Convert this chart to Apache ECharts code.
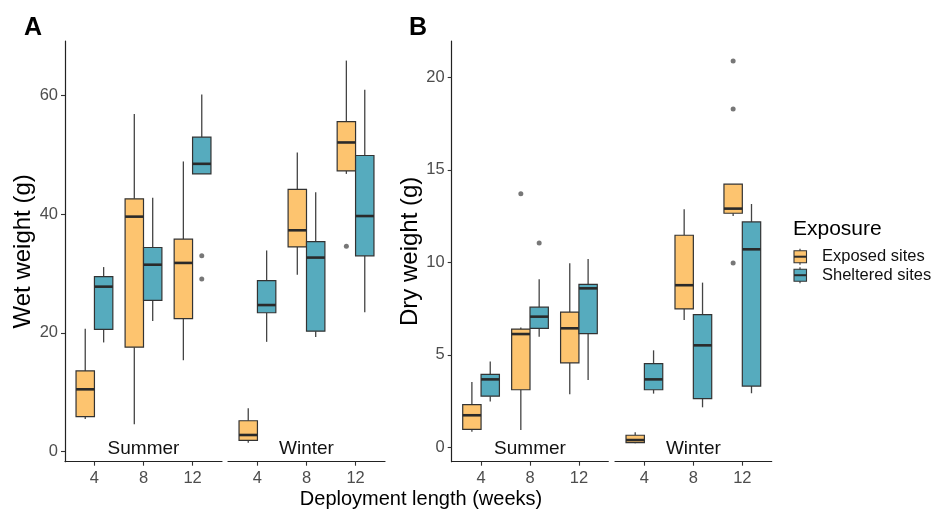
<!DOCTYPE html>
<html><head><meta charset="utf-8">
<script src="https://cdn.jsdelivr.net/npm/echarts@6/dist/echarts.min.js"></script>
<style>html,body{margin:0;padding:0;background:#fff}#c{width:937px;height:511px}</style>
</head><body><div id="c"></div>
<script>
const weeks = ['4', '8', '12'];
const seasons = ['Summer', 'Winter'];
const exposures = ['Exposed sites', 'Sheltered sites'];
const wetTicks = [0, 20, 40, 60];
const dryTicks = [0, 5, 10, 15, 20];

// [min, Q1, median, Q3, max] for weeks 4, 8, 12
const wetSummerExposed = [[5.5, 5.9, 10.5, 13.6, 20.7], [4.6, 17.6, 39.6, 42.6, 56.9], [15.4, 22.4, 31.8, 35.8, 48.9]];
const wetSummerSheltered = [[18.4, 20.6, 27.8, 29.5, 31.1], [22.0, 25.5, 31.5, 34.4, 42.8], [46.8, 46.8, 48.5, 53.0, 60.2]];
const wetWinterExposed = [[1.5, 1.9, 2.8, 5.2, 7.3], [29.8, 34.5, 37.3, 44.2, 50.4], [46.8, 47.3, 52.1, 55.6, 65.9]];
const wetWinterSheltered = [[18.5, 23.4, 24.7, 28.8, 33.9], [19.3, 20.3, 32.7, 35.4, 43.7], [23.5, 33.0, 39.7, 49.9, 61.0]];
// outliers: [week index, value]
const wetSummerExposedOut = [];
const wetSummerShelteredOut = [[2, 33.0], [2, 29.1]];
const wetWinterExposedOut = [[2, 34.6]];
const wetWinterShelteredOut = [];

const drySummerExposed = [[0.84, 0.97, 1.73, 2.30, 3.53], [0.94, 3.11, 6.12, 6.39, 6.47], [2.86, 4.56, 6.43, 7.31, 9.95]];
const drySummerSheltered = [[2.47, 2.76, 3.67, 3.94, 4.63], [5.98, 6.43, 7.06, 7.57, 9.08], [3.64, 6.14, 8.59, 8.81, 10.18]];
const dryWinterExposed = [[0.22, 0.25, 0.39, 0.65, 0.81], [6.88, 7.48, 8.76, 11.46, 12.86], [12.50, 12.65, 12.90, 14.22, 14.22]];
const dryWinterSheltered = [[2.90, 3.11, 3.67, 4.52, 5.24], [2.16, 2.63, 5.51, 7.17, 8.90], [2.92, 3.31, 10.70, 12.18, 13.15]];
const drySummerExposedOut = [[1, 13.7]];
const drySummerShelteredOut = [[1, 11.04]];
const dryWinterExposedOut = [[2, 20.88], [2, 18.29], [2, 9.96]];
const dryWinterShelteredOut = [];

const COLORS = ['#FDC46F', '#56ABBE'];
const BOX_W = 0.375;
const FONT = "'Liberation Sans', Arial, sans-serif";

const facets = [
  { left: 65, width: 157, yMin: -1.7, yMax: 69.2, ticks: wetTicks, showY: true, yName: 'Wet weight (g)', season: 0,
    boxes: [wetSummerExposed, wetSummerSheltered], outs: [wetSummerExposedOut, wetSummerShelteredOut] },
  { left: 228, width: 157, yMin: -1.7, yMax: 69.2, ticks: wetTicks, showY: false, season: 1,
    boxes: [wetWinterExposed, wetWinterSheltered], outs: [wetWinterExposedOut, wetWinterShelteredOut] },
  { left: 451.7, width: 156.6, yMin: -0.78, yMax: 21.96, ticks: dryTicks, showY: true, yName: 'Dry weight (g)', season: 0,
    boxes: [drySummerExposed, drySummerSheltered], outs: [drySummerExposedOut, drySummerShelteredOut] },
  { left: 615, width: 156.7, yMin: -0.78, yMax: 21.96, ticks: dryTicks, showY: false, season: 1,
    boxes: [dryWinterExposed, dryWinterSheltered], outs: [dryWinterExposedOut, dryWinterShelteredOut] }
];

const grid = [], xAxis = [], yAxis = [], series = [], graphic = [];

function renderBox(params, api) {
  const wi = api.value(0), ei = api.value(1);
  const cx = wi + (ei - 0.5) * BOX_W;
  const lo = api.value(2), q1 = api.value(3), med = api.value(4), q3 = api.value(5), hi = api.value(6);
  const pTop = api.coord([cx, hi]), pQ3 = api.coord([cx, q3]), pQ1 = api.coord([cx, q1]), pLo = api.coord([cx, lo]);
  const pMed = api.coord([cx, med]);
  const l = api.coord([cx - BOX_W / 2, q3])[0], r = api.coord([cx + BOX_W / 2, q3])[0];
  const lineStyle = { stroke: '#444', lineWidth: 1.3 };
  return {
    type: 'group',
    children: [
      { type: 'line', shape: { x1: pTop[0], y1: pTop[1], x2: pQ3[0], y2: pQ3[1] }, style: lineStyle },
      { type: 'line', shape: { x1: pQ1[0], y1: pQ1[1], x2: pLo[0], y2: pLo[1] }, style: lineStyle },
      { type: 'rect', shape: { x: l, y: pQ3[1], width: r - l, height: pQ1[1] - pQ3[1] },
        style: { fill: COLORS[ei], stroke: '#333', lineWidth: 1.2 } },
      { type: 'line', shape: { x1: l, y1: pMed[1], x2: r, y2: pMed[1] }, style: { stroke: '#2a2a2a', lineWidth: 2.6 } }
    ]
  };
}

facets.forEach((f, gi) => {
  grid.push({ left: f.left, width: f.width, top: 41, height: 420.7 });
  xAxis.push({
    type: 'value', gridIndex: gi, min: -0.6, max: 2.6,
    axisLine: { show: true, onZero: false, lineStyle: { color: '#222', width: 1.2 } },
    axisTick: { show: true, length: 4, lineStyle: { color: '#333', width: 1.1 }, customValues: [0, 1, 2] },
    axisLabel: { customValues: [0, 1, 2], formatter: v => weeks[Math.round(v)], color: '#4D4D4D', fontSize: 16.5, fontFamily: FONT, margin: 8 },
    splitLine: { show: false }
  });
  yAxis.push({
    type: 'value', gridIndex: gi, min: f.yMin, max: f.yMax, show: f.showY,
    name: f.yName || '', nameLocation: 'middle', nameRotate: 90, nameGap: 27,
    nameTextStyle: { color: '#000', fontSize: 24, fontFamily: FONT },
    axisLine: { show: true, onZero: false, lineStyle: { color: '#222', width: 1.2 } },
    axisTick: { show: true, length: 4, lineStyle: { color: '#333', width: 1.1 }, customValues: f.ticks },
    axisLabel: { customValues: f.ticks, color: '#4D4D4D', fontSize: 16.5, fontFamily: FONT, margin: 7 },
    splitLine: { show: false }
  });
  f.boxes.forEach((arr, ei) => {
    series.push({
      type: 'custom', name: exposures[ei], xAxisIndex: gi, yAxisIndex: gi,
      renderItem: renderBox,
      data: arr.map((b, wi) => [wi, ei].concat(b)),
      encode: { x: 0, y: [2, 3, 4, 5, 6] },
      silent: true
    });
    series.push({
      type: 'scatter', xAxisIndex: gi, yAxisIndex: gi, symbolSize: 5, silent: true,
      itemStyle: { color: '#555' },
      data: f.outs[ei].map(o => [o[0] + (ei - 0.5) * BOX_W, o[1]])
    });
  });
  graphic.push({
    type: 'text', x: f.left + f.width / 2, y: 449,
    style: { text: seasons[f.season], fill: '#111', font: '19px ' + FONT, textAlign: 'center', textVerticalAlign: 'middle' }
  });
});

graphic.push(
  { type: 'text', x: 33, y: 28, style: { text: 'A', fill: '#000', font: 'bold 25px ' + FONT, textAlign: 'center', textVerticalAlign: 'middle' } },
  { type: 'text', x: 418, y: 28, style: { text: 'B', fill: '#000', font: 'bold 25px ' + FONT, textAlign: 'center', textVerticalAlign: 'middle' } },
  { type: 'text', x: 421, y: 499, style: { text: 'Deployment length (weeks)', fill: '#000', font: '20px ' + FONT, textAlign: 'center', textVerticalAlign: 'middle' } },
  { type: 'text', x: 793, y: 229, style: { text: 'Exposure', fill: '#000', font: '21px ' + FONT, textAlign: 'left', textVerticalAlign: 'middle' } }
);
exposures.forEach((name, ei) => {
  const cy = 256.7 + ei * 18.5;
  graphic.push(
    { type: 'line', shape: { x1: 800, y1: cy - 8, x2: 800, y2: cy + 8 }, style: { stroke: '#444', lineWidth: 1.2 } },
    { type: 'rect', shape: { x: 794, y: cy - 6, width: 12.5, height: 12 }, style: { fill: COLORS[ei], stroke: '#333', lineWidth: 1.1 } },
    { type: 'line', shape: { x1: 794, y1: cy, x2: 806.5, y2: cy }, style: { stroke: '#2a2a2a', lineWidth: 2 } },
    { type: 'text', x: 822, y: cy, style: { text: name, fill: '#111', font: '16.5px ' + FONT, textAlign: 'left', textVerticalAlign: 'middle' } }
  );
});

const chart = echarts.init(document.getElementById('c'), null, { renderer: 'canvas' });
chart.setOption({ animation: false, backgroundColor: '#fff', grid, xAxis, yAxis, series, graphic });
</script>
</body></html>
